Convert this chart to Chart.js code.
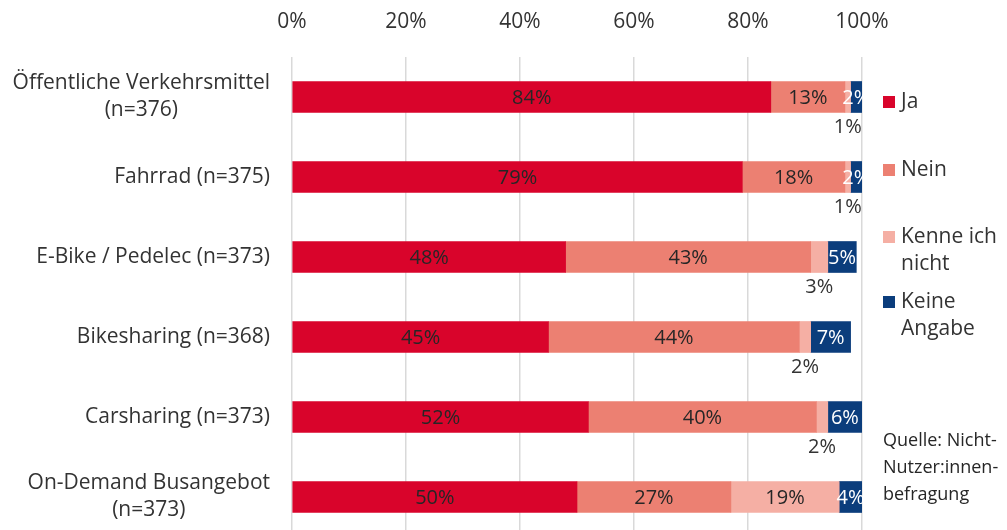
<!DOCTYPE html>
<html lang="de">
<head>
<meta charset="utf-8">
<title>Nutzung Verkehrsmittel</title>
<script src="https://cdn.jsdelivr.net/npm/chart.js@4.4.1/dist/chart.umd.min.js"></script>
<style>
    html, body { margin: 0; padding: 0; background: #ffffff; overflow: hidden; }
    #wrap { width: 1007px; height: 540px; }
</style>
</head>
<body>
<div id="wrap"><canvas id="chart" width="1007" height="540"></canvas></div>
<script>
// --- DATA ---
const categories = [
    ['Öffentliche Verkehrsmittel', '(n=376)'],
    ['Fahrrad (n=375)'],
    ['E-Bike / Pedelec (n=373)'],
    ['Bikesharing (n=368)'],
    ['Carsharing (n=373)'],
    ['On-Demand Busangebot', '(n=373)']
];
const ja = [84, 79, 48, 45, 52, 50];
const nein = [13, 18, 43, 44, 40, 27];
const kenneNicht = [1, 1, 3, 2, 2, 19];
const keineAngabe = [2, 2, 5, 7, 6, 4];
const xTicks = [0, 20, 40, 60, 80, 100];

const seriesNames = ['Ja', 'Nein', ['Kenne ich', 'nicht'], ['Keine', 'Angabe']];
const COLORS = ['#d9042b', '#ec8072', '#f5afa4', '#0b3d7c'];
const sourceLines = ['Quelle: Nicht-', 'Nutzer:innen-', 'befragung'];

const FONT = '"Open Sans", Calibri, sans-serif';
const TEXT_COLOR = '#333333';

// --- PLUGINS ---
// category labels: block right-aligned, lines centred inside the block
const categoryLabels = {
    id: 'categoryLabels',
    afterDraw(chart) {
        const { ctx, chartArea, scales } = chart;
        const right = chartArea.left - 22;
        const lineH = 27;
        ctx.save();
        ctx.font = `21px ${FONT}`;
        ctx.fillStyle = TEXT_COLOR;
        ctx.textAlign = 'center';
        ctx.textBaseline = 'middle';
        categories.forEach((lines, i) => {
            const y = scales.y.getPixelForValue(i);
            const w = Math.max(...lines.map(l => ctx.measureText(l).width));
            const cx = right - w / 2;
            const top = y - (lines.length - 1) * lineH / 2;
            lines.forEach((l, j) => ctx.fillText(l, cx, top + j * lineH));
        });
        ctx.restore();
    }
};

// value labels inside segments; small "Kenne ich nicht" values go under the bar
const valueLabels = {
    id: 'valueLabels',
    afterDatasetsDraw(chart) {
        const { ctx } = chart;
        ctx.save();
        ctx.font = `20px ${FONT}`;
        ctx.textAlign = 'center';
        ctx.textBaseline = 'middle';
        chart.data.datasets.forEach((ds, di) => {
            const meta = chart.getDatasetMeta(di);
            meta.data.forEach((bar, i) => {
                const v = ds.data[i];
                const cx = (bar.x + bar.base) / 2;
                if (di === 2 && v < 5) {
                    ctx.fillStyle = TEXT_COLOR;
                    ctx.fillText(v + '%', cx, bar.y + 30);
                } else {
                    ctx.fillStyle = di === 3 ? '#ffffff' : '#262626';
                    ctx.fillText(v + '%', cx, bar.y + 1);
                }
            });
        });
        ctx.restore();
    }
};

// legend and source note on the right
const sideLegend = {
    id: 'sideLegend',
    afterDraw(chart) {
        const { ctx } = chart;
        const rows = [102, 170, 237, 302];
        const lineH = 27;
        ctx.save();
        ctx.textBaseline = 'middle';
        ctx.textAlign = 'left';
        ctx.font = `21px ${FONT}`;
        seriesNames.forEach((name, i) => {
            const lines = Array.isArray(name) ? name : [name];
            ctx.fillStyle = COLORS[i];
            ctx.fillRect(883, rows[i] - 6, 12, 12);
            ctx.fillStyle = TEXT_COLOR;
            lines.forEach((l, j) => ctx.fillText(l, 901, rows[i] + j * lineH));
        });
        ctx.font = `18px ${FONT}`;
        ctx.fillStyle = '#262626';
        sourceLines.forEach((l, j) => ctx.fillText(l, 883, 441 + j * 27));
        ctx.restore();
    }
};

// --- CHART ---
const datasetValues = [ja, nein, kenneNicht, keineAngabe];
new Chart(document.getElementById('chart'), {
    type: 'bar',
    data: {
        labels: categories.map(c => c.join(' ')),
        datasets: datasetValues.map((data, i) => ({
            label: [].concat(seriesNames[i]).join(' '),
            data,
            backgroundColor: COLORS[i],
            borderWidth: 0,
            barThickness: 31
        }))
    },
    options: {
        indexAxis: 'y',
        responsive: false,
        animation: false,
        layout: { padding: { left: 292, right: 145, top: 0, bottom: 3 } },
        plugins: { legend: { display: false }, tooltip: { enabled: false } },
        scales: {
            x: {
                position: 'top',
                stacked: true,
                min: 0,
                max: 100,
                afterBuildTicks: scale => { scale.ticks = xTicks.map(v => ({ value: v })); },
                afterFit: scale => { scale.height = 57; },
                ticks: {
                    callback: v => v + '%',
                    color: TEXT_COLOR,
                    font: { size: 21, family: FONT },
                    padding: 22,
                    maxRotation: 0
                },
                grid: { color: '#d9d9d9', lineWidth: 1.5, drawTicks: false },
                border: { display: false }
            },
            y: {
                display: false,
                stacked: true
            }
        }
    },
    plugins: [categoryLabels, valueLabels, sideLegend]
});
</script>
</body>
</html>
